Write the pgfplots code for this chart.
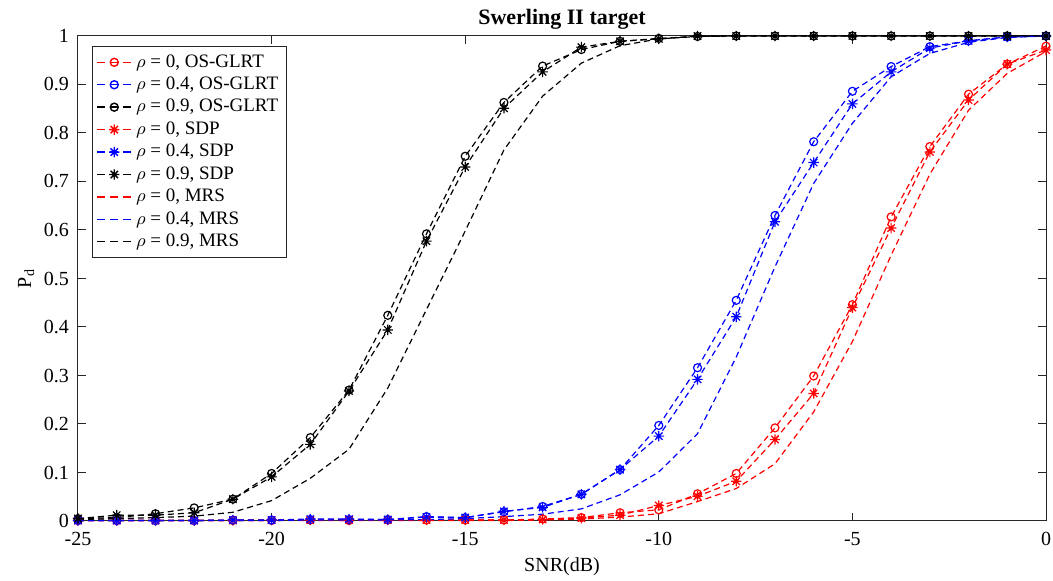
\documentclass[border=0pt]{standalone}
\usepackage{pgfplots}
\pgfplotsset{compat=1.18}
\usepackage{fontspec}
\setmainfont{Liberation Serif}
\pgfdeclareplotmark{mstar}{%
  \pgfpathmoveto{\pgfqpoint{-\pgfplotmarksize}{0pt}}\pgfpathlineto{\pgfqpoint{\pgfplotmarksize}{0pt}}%
  \pgfpathmoveto{\pgfqpoint{0pt}{-\pgfplotmarksize}}\pgfpathlineto{\pgfqpoint{0pt}{\pgfplotmarksize}}%
  \pgfpathmoveto{\pgfqpoint{-.707\pgfplotmarksize}{-.707\pgfplotmarksize}}\pgfpathlineto{\pgfqpoint{.707\pgfplotmarksize}{.707\pgfplotmarksize}}%
  \pgfpathmoveto{\pgfqpoint{-.707\pgfplotmarksize}{.707\pgfplotmarksize}}\pgfpathlineto{\pgfqpoint{.707\pgfplotmarksize}{-.707\pgfplotmarksize}}%
  \pgfusepathqstroke}
\definecolor{axgray}{rgb}{0.15,0.15,0.15}
\definecolor{mred}{rgb}{1,0,0}
\definecolor{mblue}{rgb}{0,0,1}
\begin{document}
\begin{tikzpicture}
\begin{axis}[
  scale only axis,
  width=484pt, height=242.5pt,
  xmin=-25, xmax=0, ymin=0, ymax=1,
  xtick={-25,-20,...,0}, ytick={0,0.1,...,1.01},
  yticklabels={0,0.1,0.2,0.3,0.4,0.5,0.6,0.7,0.8,0.9,1},
  /pgf/number format/assume math mode=true,
  tick label style={font=\fontsize{10}{12}\selectfont},
  axis line style={axgray, line width=0.5pt},
  tick style={axgray, line width=0.5pt},
  major tick length=4pt,
  tick align=inside,
  xticklabel style={yshift=-2pt},
  yticklabel style={xshift=-1pt},
  title={\textbf{Swerling II target}},
  title style={font=\fontsize{11}{13}\selectfont, yshift=-6pt},
  xlabel={SNR(dB)},
  ylabel={P\textsubscript{d}},
  label style={font=\fontsize{10}{12}\selectfont},
  xlabel style={yshift=1pt},
  ylabel style={yshift=-2pt},
  clip=false,
  legend cell align=left,
  legend style={at={(0,1)}, anchor=north west, xshift=7pt, yshift=-5pt,
    font=\fontsize{9.5}{10}\selectfont, draw=axgray, line width=0.5pt,
    row sep=-0.6pt, inner sep=2pt},
  legend image code/.code={%
    \draw[mark repeat=2,mark phase=2,#1,line width=0.7pt,dash pattern=on 4pt off 2.5pt] plot coordinates {(0cm,0cm) (0.3cm,0cm) (0.6cm,0cm)};},
  every axis plot/.append style={line width=0.6pt, dash pattern=on 3pt off 2pt},
]
% OS-GLRT
\addplot[color=mred, mark=o, mark size=2pt, mark options={solid}] coordinates {
(-25,0.001)(-24,0.001)(-23,0.001)(-22,0.001)(-21,0.001)(-20,0.001)(-19,0.002)(-18,0.001)(-17,0.002)(-16,0.002)(-15,0.002)(-14,0.002)(-13,0.004)(-12,0.007)(-11,0.017)(-10,0.023)(-9,0.056)(-8,0.098)(-7,0.192)(-6,0.299)(-5,0.446)(-4,0.627)(-3,0.772)(-2,0.880)(-1,0.942)(0,0.979)};
\addlegendentry{$\rho$ = 0, OS-GLRT}
\addplot[color=mblue, mark=o, mark size=2pt, mark options={solid}] coordinates {
(-25,0.001)(-24,0.001)(-23,0.001)(-22,0.001)(-21,0.002)(-20,0.002)(-19,0.003)(-18,0.003)(-17,0.003)(-16,0.009)(-15,0.007)(-14,0.019)(-13,0.030)(-12,0.055)(-11,0.106)(-10,0.197)(-9,0.316)(-8,0.455)(-7,0.630)(-6,0.782)(-5,0.886)(-4,0.937)(-3,0.978)(-2,0.990)(-1,0.998)(0,1)};
\addlegendentry{$\rho$ = 0.4, OS-GLRT}
\addplot[color=black, mark=o, mark size=2pt, mark options={solid}] coordinates {
(-25,0.005)(-24,0.007)(-23,0.015)(-22,0.027)(-21,0.045)(-20,0.098)(-19,0.172)(-18,0.270)(-17,0.424)(-16,0.592)(-15,0.752)(-14,0.863)(-13,0.938)(-12,0.972)(-11,0.989)(-10,0.995)(-9,0.999)(-8,1)(-7,1)(-6,1)(-5,1)(-4,1)(-3,1)(-2,1)(-1,1)(0,1)};
\addlegendentry{$\rho$ = 0.9, OS-GLRT}
% SDP
\addplot[color=mred, mark=mstar, mark size=2.6pt, mark options={solid}] coordinates {
(-25,0.001)(-24,0.001)(-23,0.001)(-22,0.001)(-21,0.001)(-20,0.002)(-19,0.002)(-18,0.002)(-17,0.002)(-16,0.002)(-15,0.002)(-14,0.002)(-13,0.003)(-12,0.006)(-11,0.012)(-10,0.032)(-9,0.051)(-8,0.082)(-7,0.168)(-6,0.263)(-5,0.440)(-4,0.604)(-3,0.761)(-2,0.868)(-1,0.942)(0,0.971)};
\addlegendentry{$\rho$ = 0, SDP}
\addplot[color=mblue, mark=mstar, mark size=2.6pt, mark options={solid}] coordinates {
(-25,0.001)(-24,0.001)(-23,0.001)(-22,0.001)(-21,0.002)(-20,0.002)(-19,0.004)(-18,0.004)(-17,0.003)(-16,0.008)(-15,0.007)(-14,0.020)(-13,0.028)(-12,0.055)(-11,0.106)(-10,0.175)(-9,0.292)(-8,0.421)(-7,0.617)(-6,0.739)(-5,0.860)(-4,0.926)(-3,0.975)(-2,0.990)(-1,0.998)(0,1)};
\addlegendentry{$\rho$ = 0.4, SDP}
\addplot[color=black, mark=mstar, mark size=2.6pt, mark options={solid}] coordinates {
(-25,0.005)(-24,0.012)(-23,0.012)(-22,0.017)(-21,0.045)(-20,0.091)(-19,0.158)(-18,0.268)(-17,0.394)(-16,0.577)(-15,0.730)(-14,0.851)(-13,0.926)(-12,0.977)(-11,0.989)(-10,0.994)(-9,1)(-8,1)(-7,1)(-6,1)(-5,1)(-4,1)(-3,1)(-2,1)(-1,1)(0,1)};
\addlegendentry{$\rho$ = 0.9, SDP}
% MRS
\addplot[color=mred, mark=none] coordinates {
(-25,0.001)(-24,0.001)(-23,0.001)(-22,0.001)(-21,0.001)(-20,0.001)(-19,0.001)(-18,0.001)(-17,0.001)(-16,0.001)(-15,0.001)(-14,0.001)(-13,0.002)(-12,0.004)(-11,0.008)(-10,0.015)(-9,0.040)(-8,0.067)(-7,0.118)(-6,0.225)(-5,0.370)(-4,0.548)(-3,0.715)(-2,0.847)(-1,0.923)(0,0.968)};
\addlegendentry{$\rho$ = 0, MRS}
\addplot[color=mblue, mark=none] coordinates {
(-25,0.001)(-24,0.001)(-23,0.001)(-22,0.001)(-21,0.001)(-20,0.001)(-19,0.002)(-18,0.002)(-17,0.002)(-16,0.003)(-15,0.005)(-14,0.009)(-13,0.014)(-12,0.025)(-11,0.054)(-10,0.101)(-9,0.180)(-8,0.338)(-7,0.524)(-6,0.696)(-5,0.820)(-4,0.916)(-3,0.964)(-2,0.987)(-1,0.997)(0,1)};
\addlegendentry{$\rho$ = 0.4, MRS}
\addplot[color=black, mark=none] coordinates {
(-25,0.003)(-24,0.005)(-23,0.007)(-22,0.010)(-21,0.018)(-20,0.042)(-19,0.088)(-18,0.148)(-17,0.274)(-16,0.436)(-15,0.598)(-14,0.765)(-13,0.876)(-12,0.944)(-11,0.980)(-10,0.994)(-9,0.999)(-8,1)(-7,1)(-6,1)(-5,1)(-4,1)(-3,1)(-2,1)(-1,1)(0,1)};
\addlegendentry{$\rho$ = 0.9, MRS}
\end{axis}
\pgfresetboundingbox
\path (current axis.south west) ++(-39pt,-30pt) coordinate (bbsw);
\path (current axis.north east) ++(3.5pt,18pt) coordinate (bbne);
\useasboundingbox (bbsw) rectangle (bbne);
\end{tikzpicture}
\end{document}
